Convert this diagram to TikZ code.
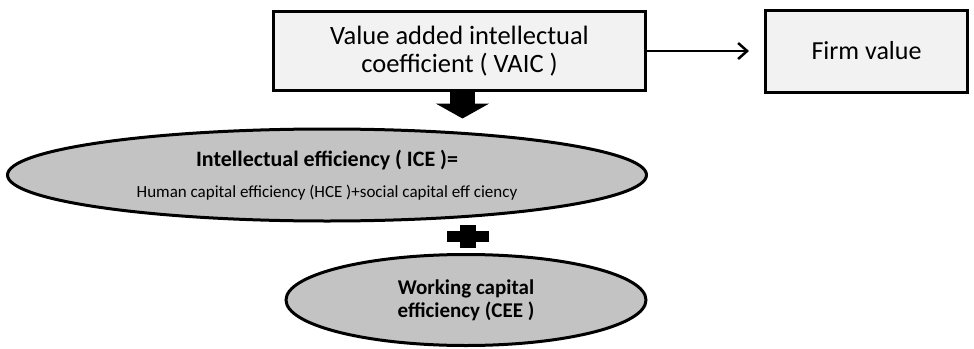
\documentclass[tikz,border=0pt]{standalone}
\usepackage{fontspec}
\setmainfont{Carlito}
\usepackage{tikz}
\usetikzlibrary{shapes.geometric, positioning, arrows.meta}
\definecolor{boxfill}{HTML}{F2F2F2}
\definecolor{ovalfill}{HTML}{C3C3C3}
\tikzset{
x=1pt, y=-1pt, % one unit per pixel, y pointing down
block/.style={draw, line width=3pt, fill=boxfill, inner sep=0pt, align=center}, % the two boxes
oval/.style={ellipse, draw, line width=3pt, fill=ovalfill, inner sep=0pt, align=center}, % the two ellipses
link/.style={line width=2.5pt, -{Straight Barb[length=9pt, width=16pt]}}, % thin arrow
bigarrow/.style={line width=25pt, -{Triangle[length=15pt, width=53pt]}}, % block arrow
}

\begin{document}
\begin{tikzpicture}
        \useasboundingbox (0,0) rectangle (974,348);

        \node[block, minimum width=372pt, minimum height=79pt, font=\fontsize{26.5}{28}\selectfont] (vaic) at (459.5,51)
            {Value added intellectual\\ coefficient ( VAIC )};
        \node[block, minimum width=202pt, minimum height=82pt, right=117pt of vaic, font=\fontsize{26}{28}\selectfont] (firm)
            {Firm value};
        \node[oval, minimum width=639pt, minimum height=92pt, font=\fontsize{22}{31}\selectfont] (ice) at (327,175)
            {\textbf{Intellectual efficiency ( ICE )=}\\
             {\fontsize{17}{31}\selectfont Human capital efficiency (HCE )+social capital eff ciency}};
        \node[oval, minimum width=360pt, minimum height=91pt, font=\fontsize{21}{23}\selectfont\bfseries] (cee) at (466,300)
            {Working capital\\ efficiency (CEE )};

        \draw[link] (vaic.east) -- ([xshift=-15pt]firm.west);
        \draw[bigarrow, shorten >=9pt] ([xshift=3pt]vaic.south) -- ([xshift=3pt]vaic.south |- ice.north);

        % plus sign between the ellipses
        \coordinate (plus) at (468,236);
        \fill ([xshift=-21pt, yshift=-5.5pt]plus) rectangle ([xshift=21pt, yshift=5.5pt]plus);
        \fill ([xshift=-8pt, yshift=-11.5pt]plus) rectangle ([xshift=8pt, yshift=11.5pt]plus);
      \end{tikzpicture}
\end{document}
